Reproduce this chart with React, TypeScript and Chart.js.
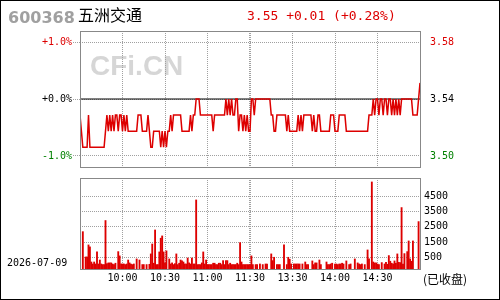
import React, { useEffect, useRef } from "react";
import { Chart, registerables } from "chart.js";

Chart.register(...registerables);

// ---- data ----
const stockCode = "600368";
const stockName = "五洲交通";
const quoteText = "3.55 +0.01 (+0.28%)";
const tradeDate = "2026-07-09";
const statusText = "(已收盘)";
const watermark = "CFi.CN";

const prevClose = 3.54;
const priceTickValues = [3.5046, 3.54, 3.5754];
const pctTickLabels = ["-1.0%", "+0.0%", "+1.0%"];
const priceTickLabels = ["3.50", "3.54", "3.58"];

const timeTickValues = [30, 60, 90, 119.3, 120, 120.7, 150, 180, 210];
const timeTickLabels = ["10:00", "10:30", "11:00", "", "11:30", "", "13:30", "14:00", "14:30"];

const volTickValues = [500, 1500, 2500, 3500, 4500];
const volTickLabels = ["500", "1500", "2500", "3500", "4500"];

// one value per minute, 09:30 .. 11:30, 13:01 .. 15:00
const prices = [
  3.53, 3.52, 3.51, 3.51, 3.51, 3.51, 3.53, 3.51, 3.51, 3.51,
  3.51, 3.51, 3.51, 3.51, 3.51, 3.51, 3.51, 3.51, 3.52, 3.53,
  3.52, 3.53, 3.52, 3.53, 3.52, 3.53, 3.53, 3.52, 3.53, 3.53,
  3.52, 3.53, 3.52, 3.53, 3.52, 3.52, 3.52, 3.52, 3.52, 3.52,
  3.52, 3.53, 3.53, 3.53, 3.52, 3.52, 3.52, 3.52, 3.53, 3.52,
  3.51, 3.51, 3.52, 3.52, 3.52, 3.52, 3.52, 3.51, 3.52, 3.51,
  3.52, 3.51, 3.52, 3.52, 3.53, 3.52, 3.53, 3.53, 3.53, 3.53,
  3.53, 3.53, 3.52, 3.52, 3.52, 3.52, 3.52, 3.52, 3.53, 3.52,
  3.53, 3.53, 3.54, 3.54, 3.54, 3.53, 3.53, 3.53, 3.53, 3.53,
  3.53, 3.53, 3.53, 3.53, 3.52, 3.53, 3.53, 3.53, 3.53, 3.53,
  3.53, 3.53, 3.53, 3.54, 3.53, 3.54, 3.53, 3.54, 3.53, 3.53,
  3.54, 3.54, 3.52, 3.53, 3.53, 3.52, 3.53, 3.52, 3.53, 3.52,
  3.52, 3.54, 3.54, 3.53, 3.54, 3.54, 3.54, 3.54, 3.54, 3.54,
  3.54, 3.54, 3.54, 3.54, 3.54, 3.53, 3.53, 3.52, 3.52, 3.53,
  3.53, 3.53, 3.53, 3.53, 3.53, 3.53, 3.52, 3.53, 3.52, 3.52,
  3.52, 3.52, 3.52, 3.52, 3.53, 3.52, 3.53, 3.52, 3.53, 3.53,
  3.53, 3.53, 3.53, 3.53, 3.52, 3.53, 3.52, 3.52, 3.53, 3.53,
  3.52, 3.52, 3.52, 3.52, 3.52, 3.52, 3.52, 3.53, 3.53, 3.53,
  3.52, 3.52, 3.52, 3.53, 3.53, 3.53, 3.53, 3.53, 3.52, 3.52,
  3.52, 3.52, 3.52, 3.52, 3.52, 3.52, 3.52, 3.52, 3.52, 3.52,
  3.52, 3.52, 3.52, 3.52, 3.53, 3.53, 3.53, 3.54, 3.53, 3.54,
  3.54, 3.53, 3.54, 3.54, 3.53, 3.54, 3.54, 3.53, 3.54, 3.54,
  3.53, 3.54, 3.53, 3.54, 3.53, 3.54, 3.53, 3.54, 3.54, 3.54,
  3.54, 3.54, 3.54, 3.54, 3.54, 3.53, 3.53, 3.53, 3.53, 3.54,
  3.55,
];

const volumes: (number | null)[] = [
  280, null, 2180, null, 520, 520, 1310, 1180, 190, 60,
  190, 60, 850, 60, 320, 60, 20, 20, 2910, 80,
  130, 130, 130, 60, 20, 110, null, 870, 590, 60,
  60, 60, 20, 60, 320, 130, 60, 20, 60, null,
  390, null, 320, null, 20, 20, null, 20, null, 40,
  720, 1370, 110, 2290, 20, 20, 850, 1750, 1900, 850,
  130, 920, null, 390, 60, 130, 20, 80, 720, 20,
  110, 320, 260, 190, 60, 60, 450, 130, 60, 450,
  60, 60, 4260, 20, 20, 20, 130, 850, 60, 320,
  20, 20, 20, 20, 110, 110, 20, 20, 110, 110,
  20, 280, 20, 280, 280, 20, 110, 20, 20, 20,
  20, 110, 20, 1460, 190, 20, 20, 20, 20, 20,
  20, 590, 20, null, 20, 20, null, 60, null, 20,
  null, 60, 60, null, null, 720, 280, 500, null, 20,
  20, 20, null, null, 1310, null, 20, 500, 370, 60,
  null, 60, 60, 60, 60, 60, null, 60, null, 190,
  20, 20, null, null, 260, 20, 130, 130, null, 320,
  20, null, null, null, 190, 20, 20, 60, 110, null,
  60, 60, 20, 60, 60, 110, 60, null, 260, null,
  20, 60, null, null, 390, null, 130, 60, 20, 60,
  null, 20, null, 980, 390, null, 5440, 190, 130, 130,
  60, 20, null, 150, null, 60, 170, 40, 610, 240,
  110, 60, 260, 110, 720, 170, 150, 3760, 60, 740,
  null, 870, 1570, 390, 240, 1570, null, null, null, 2840,
  null,
];

// ---- styling ----
const RED = "#dd0000";
const GREEN = "#008000";
const GRID = "#a0a0a0";
const BOX = "#888888";
const MONO = "'DejaVu Sans Mono', monospace";

const PRICE_MIN = 3.4977;
const PRICE_MAX = 3.5823;
const VOL_MIN = -270;
const VOL_MAX = 5700;

const tickColorsPct = [GREEN, "#000000", RED];

export default function App() {
  const priceRef = useRef<HTMLCanvasElement>(null);
  const volRef = useRef<HTMLCanvasElement>(null);

  useEffect(() => {
    document.body.style.margin = "0";
    Chart.defaults.font.family = MONO;

    const boxPlugin = (id: string) => ({
      id,
      afterDraw(chart: any) {
        const { ctx, chartArea: a } = chart;
        ctx.save();
        ctx.strokeStyle = BOX;
        ctx.lineWidth = 1;
        ctx.strokeRect(
          Math.round(a.left) + 0.5,
          Math.round(a.top) + 0.5,
          Math.round(a.right - a.left),
          Math.round(a.bottom - a.top)
        );
        ctx.restore();
      },
    });

    const textPlugin = {
      id: "texts",
      beforeDraw(chart: any) {
        const { ctx, chartArea: a } = chart;
        ctx.save();
        ctx.fillStyle = "#d6d6d6";
        ctx.font = "bold 28px 'Liberation Sans', sans-serif";
        ctx.textBaseline = "alphabetic";
        ctx.fillText(watermark, a.left + 10, 74.5);
        ctx.restore();
      },
      afterDraw(chart: any) {
        const { ctx } = chart;
        ctx.save();
        ctx.textBaseline = "alphabetic";
        ctx.fillStyle = "#a0a0a0";
        ctx.font = "bold 16px 'DejaVu Sans', sans-serif";
        ctx.fillText(stockCode, 8, 23);
        ctx.fillStyle = "#000";
        ctx.font = "16px 'Noto Sans CJK SC', sans-serif";
        ctx.fillText(stockName, 78, 21);
        ctx.fillStyle = RED;
        ctx.font = "13px " + MONO;
        ctx.fillText(quoteText, 247, 19.5);
        ctx.fillStyle = "#000";
        ctx.font = "10px " + MONO;
        ctx.fillText(tradeDate, 7, 266);
        ctx.font = "12px 'Noto Sans CJK SC', " + MONO;
        ctx.textBaseline = "middle";
        ctx.fillText(statusText, 423, 279);
        ctx.restore();
      },
    };

    const priceChart = new Chart(priceRef.current!, {
      type: "line",
      data: {
        datasets: [
          {
            data: prices.map((p, i) => ({ x: i, y: p })),
            borderColor: RED,
            borderWidth: 1.5,
            pointRadius: 0,
            tension: 0,
            yAxisID: "yL",
          },
          {
            data: [
              { x: 0, y: prevClose },
              { x: 240, y: prevClose },
            ],
            borderColor: "#000",
            borderWidth: 1,
            pointRadius: 0,
            yAxisID: "yL",
          },
        ],
      },
      options: {
        responsive: false,
        animation: false,
        events: [],
        plugins: { legend: { display: false }, tooltip: { enabled: false } },
        layout: { padding: { top: 31, bottom: 133, left: 0, right: 0 } },
        scales: {
          x: {
            type: "linear",
            min: 0,
            max: 240,
            afterBuildTicks: (s: any) => {
              s.ticks = timeTickValues.filter((v) => v !== 120).map((v) => ({ value: v }));
            },
            ticks: { display: false },
            grid: { color: GRID, drawTicks: false },
            border: { display: false, dash: [1, 1] },
            afterFit: (s: any) => {
              s.height = 0;
            },
          },
          yL: {
            type: "linear",
            position: "left",
            min: PRICE_MIN,
            max: PRICE_MAX,
            afterBuildTicks: (s: any) => {
              s.ticks = priceTickValues.map((v) => ({ value: v }));
            },
            ticks: {
              callback: (_v: any, i: number) => pctTickLabels[i],
              color: (c: any) => tickColorsPct[c.index],
              font: { family: MONO, size: 10 },
              padding: 1,
              autoSkip: false,
            },
            grid: { color: GRID, tickLength: 7, tickBorderDash: [1, 1] },
            border: { display: false, dash: [1, 1] },
            afterFit: (s: any) => {
              s.width = 80;
            },
          },
          yR: {
            type: "linear",
            position: "right",
            min: PRICE_MIN,
            max: PRICE_MAX,
            afterBuildTicks: (s: any) => {
              s.ticks = priceTickValues.map((v) => ({ value: v }));
            },
            ticks: {
              callback: (_v: any, i: number) => priceTickLabels[i],
              color: (c: any) => tickColorsPct[c.index],
              font: { family: MONO, size: 10 },
              padding: 2,
              autoSkip: false,
            },
            grid: { display: false },
            border: { display: false },
            afterFit: (s: any) => {
              s.width = 80;
            },
          },
        },
      },
      plugins: [textPlugin, boxPlugin("box1")],
    } as any);

    const volChart = new Chart(volRef.current!, {
      type: "bar",
      data: {
        datasets: [
          {
            data: volumes.map((v, i) => ({ x: i, y: v })),
            backgroundColor: RED,
            barThickness: 1.2,
            base: VOL_MIN,
            xAxisID: "x",
            yAxisID: "yV",
          },
        ],
      },
      options: {
        responsive: false,
        animation: false,
        events: [],
        plugins: { legend: { display: false }, tooltip: { enabled: false } },
        layout: { padding: { top: 178, bottom: 0, left: 80, right: 0 } },
        scales: {
          x: {
            type: "linear",
            min: 0,
            max: 240,
            offset: false,
            afterBuildTicks: (s: any) => {
              s.ticks = timeTickValues.map((v) => ({ value: v }));
            },
            ticks: {
              callback: (_v: any, i: number) => timeTickLabels[i],
              color: "#000",
              font: { family: MONO, size: 10 },
              padding: 3,
              maxRotation: 0,
              autoSkip: false,
            },
            grid: {
              offset: false,
              drawTicks: false,
              color: (c: any) => (c.tick && c.tick.value === 120 ? "rgba(0,0,0,0)" : GRID),
            },
            border: { display: false, dash: [1, 1] },
            afterFit: (s: any) => {
              s.height = 31;
            },
          },
          yV: {
            type: "linear",
            position: "right",
            min: VOL_MIN,
            max: VOL_MAX,
            afterBuildTicks: (s: any) => {
              s.ticks = volTickValues.map((v) => ({ value: v }));
            },
            ticks: {
              callback: (_v: any, i: number) => volTickLabels[i],
              color: "#000",
              font: { family: MONO, size: 10 },
              padding: 4,
              autoSkip: false,
            },
            grid: { color: GRID, drawTicks: false },
            border: { display: false, dash: [1, 1] },
            afterFit: (s: any) => {
              s.width = 80;
            },
          },
        },
      },
      plugins: [boxPlugin("box2")],
    } as any);

    return () => {
      priceChart.destroy();
      volChart.destroy();
    };
  }, []);

  return (
    <div
      style={{
        position: "relative",
        width: 500,
        height: 300,
        boxSizing: "border-box",
        border: "1px solid #000",
        background: "#fff",
      }}
    >
      <canvas
        ref={priceRef}
        width={500}
        height={300}
        style={{ position: "absolute", left: -1, top: -1, width: 500, height: 300 }}
      />
      <canvas
        ref={volRef}
        width={500}
        height={300}
        style={{ position: "absolute", left: -1, top: -1, width: 500, height: 300 }}
      />
    </div>
  );
}
